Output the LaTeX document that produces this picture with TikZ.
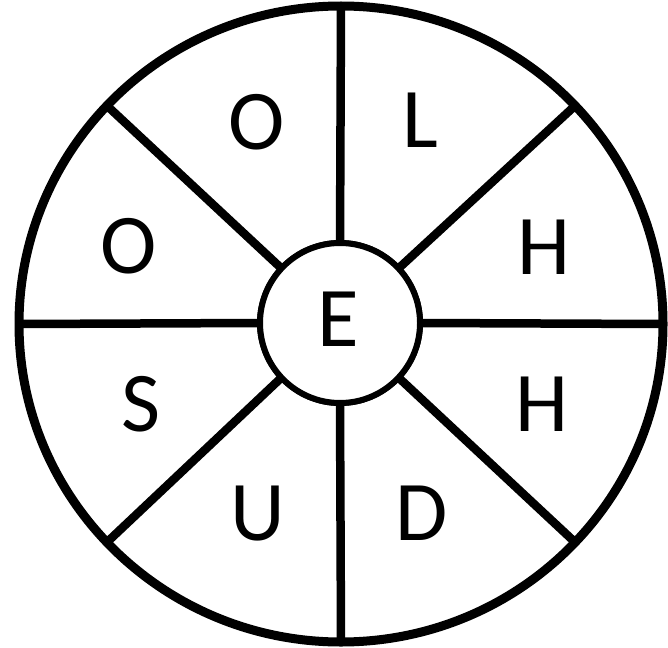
\documentclass[tikz,border=0pt]{standalone}
\usepackage{fontspec}
\setmainfont{Carlito}
\usetikzlibrary{shapes.geometric}
\tikzset{
  rim/.style={draw, ellipse, line width=9pt, inner sep=0pt, outer sep=0pt, minimum width=644pt, minimum height=636pt},
  hub/.style={draw, circle, fill=white, line width=6pt, inner sep=0pt, outer sep=0pt, minimum size=160pt},
  spoke/.style={line width=8.5pt},
  letter/.style={inner sep=0pt, text height=54.7pt, text depth=0pt, font=\fontsize{85}{85}\selectfont}
}
\begin{document}
\begin{tikzpicture}[x=1pt,y=-1pt]
\useasboundingbox (0,0) rectangle (668,647);
\node[rim] (outer) at (341,324) {};
\node[hub] (c) at (340,323) {};
\foreach \a in {43,90,137,180,223,270,317,0} {
  \draw[spoke] (c.\a) -- (outer.\a);
}
\node[hub] (c2) at (340,323) {};
\node[letter] (e) at (338,319) {E};
\node[letter] (o1) at (257,122) {O};
\node[letter] (l) at (420,120) {L};
\node[letter] (h1) at (544,247) {H};
\node[letter] (h2) at (542,404) {H};
\node[letter] (d) at (422,513) {D};
\node[letter] (u) at (258,513) {U};
\node[letter] (s) at (141,404) {S};
\node[letter] (o2) at (129,246) {O};
\end{tikzpicture}
\end{document}
